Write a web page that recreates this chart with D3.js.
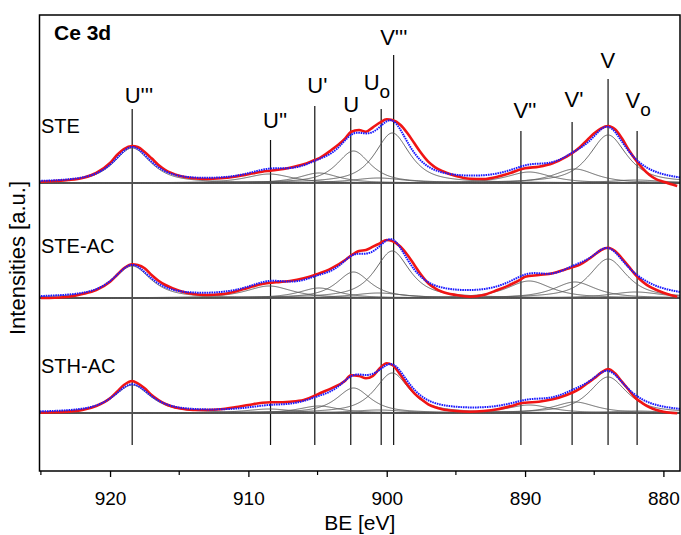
<!DOCTYPE html>
<html>
<head>
<meta charset="utf-8">
<script src="https://cdn.jsdelivr.net/npm/d3@7"></script>
<style>
  body { margin: 0; background: #fff; }
  text { font-family: Arial, "Liberation Sans", sans-serif; fill: #000; }
</style>
</head>
<body>
<div id="chart"></div>
<script>
const w = 681, h = 535;

// binding energies of the marker lines (eV)
const peakNames = ["U'''", "U''", "U'", "U", "Uo", "V'''", "V''", "V'", "V", "Vo"];
const peakLines = [918.4, 908.4, 905.2, 902.6, 900.4, 899.5, 890.3, 886.6, 884.0, 881.9];

// fitted components (shared centre and width, height per sample)
const compCenter = [918.4, 908.5, 904.9, 902.4, 900.6, 899.6, 889.7, 886.4, 884.0, 882.0];
const compFwhm   = [3.2, 4.0, 3.4, 2.9, 4.5, 3.0, 3.8, 3.6, 3.2, 4.5];
const heightSTE   = [35, 9, 10, 32, 5, 50, 11, 14, 48, 3];
const heightSTEAC = [32, 12, 10, 26, 5, 47, 17, 16, 39, 6];
const heightSTHAC = [28, 4, 7, 25, 3, 40, 8, 11, 36, 2];

const samples = ["STE", "STE-AC", "STH-AC"];
const offsets = [288, 173, 58];

// measured spectra (intensity above each baseline)
const expBE = [925, 924, 923, 922, 921, 920, 919.5, 919, 918.4, 918, 917.5, 917, 916.5, 916, 915,
  914, 913, 912, 911, 910, 909, 908.4, 908, 907, 906, 905.2, 905, 904, 903, 902.6,
  902, 901.5, 901, 900.5, 900, 899.6, 899, 898.5, 898, 897.5, 897, 896.5, 896, 895, 894,
  893, 892, 891, 890.3, 890, 889, 888, 887, 886.6, 886, 885.5, 885, 884.5, 884, 883.5,
  883, 882.5, 882, 881.5, 881, 880.5, 880, 879.5, 879];
const expSTE = [1.3, 2, 3, 5, 10, 20, 28, 34, 37, 36, 31, 24.7, 18, 13, 7.3,
  4.7, 4, 4.7, 6.3, 8.7, 11.3, 12.3, 13, 15.3, 18.7, 23, 24, 33, 44.7, 51,
  53, 51.3, 55.7, 60.3, 63.7, 63, 58, 49.7, 39.7, 29.7, 21.3, 15.7, 12, 7, 4.3,
  4, 6.3, 10.3, 13.7, 14.7, 16.3, 19.7, 26.3, 29.7, 36.3, 43, 49.7, 54.7, 57, 53.7,
  44.7, 33, 23, 14.7, 8, 3.7, 1.3, -1, -3];
const expSTEAC = [0, 0.3, 1.3, 4, 8, 16.3, 23, 29.7, 33.7, 33, 29.7, 23, 17.3, 13, 7.3,
  4, 3, 3.7, 6.3, 10.3, 14, 15.3, 15.7, 17, 19.7, 23, 24, 29.7, 38, 42.3,
  47, 48, 51.3, 54.7, 58, 57, 51.3, 43, 33, 23, 14.7, 9.7, 6.3, 3, 1.3,
  3, 8, 13.7, 18.7, 21.3, 23, 24.7, 29, 30.7, 33.7, 38, 43, 48, 50.3, 47,
  39.7, 31.3, 23, 16.3, 11.3, 8, 5.3, 3, 1.3];
const expSTHAC = [0.3, 0.7, 1.3, 3, 7, 14.7, 21.3, 28, 32, 29.7, 24.7, 18, 13, 9, 4.7,
  3, 3, 3.7, 5.7, 8, 10.3, 10.7, 10.7, 11.3, 13, 17.3, 18.7, 24.7, 32.3, 37.7,
  37, 34.7, 37, 44.7, 49.7, 48, 38, 28, 19.7, 13.7, 8.7, 5.7, 3.7, 2, 1.3,
  2, 3.7, 7, 9.7, 10.3, 11.3, 13.7, 18, 20.3, 24.7, 29.7, 34.7, 40.3, 44, 39.7,
  31.3, 23, 14.7, 9.7, 5.7, 3, 1.3, 0.3, -0.3];

const heights = [heightSTE, heightSTEAC, heightSTHAC];
const measured = [expSTE, expSTEAC, expSTHAC];

const xTicks = [920, 910, 900, 890, 880];
const xMinor = [925, 915, 905, 895, 885];

// annotation layout: line tops (intensity units) and label baselines (px)
const lineTop = [362, 331, 365, 353, 362, 416, 340, 349, 392, 340];
const lineBottom = 26;
const labelY = [103, 128, 93, 112, 90, 45, 118, 107, 68, 108];
const labelDx = [0, 0, 0, 0, -10, -6, 0, 0, 0, -4];
const sampleLabelY = [133, 253, 373];

const x = d3.scaleLinear().domain([925.1, 878.8]).range([39.5, 680]);
const y = d3.scaleLinear().domain([0, 456]).range([471, 15]);

const svg = d3.select("#chart").append("svg")
    .attr("width", w)
    .attr("height", h);

svg.append("defs").append("clipPath").attr("id", "plotclip")
  .append("rect").attr("x", x.range()[0]).attr("y", 15)
  .attr("width", x.range()[1] - x.range()[0]).attr("height", 456);

// pseudo-Voigt line shape
const pv = (e, c, hgt, fw) => {
  const r = (e - c) / (fw / 2), m = 0.8;
  return hgt * (m / (1 + r * r) + (1 - m) * Math.exp(-Math.LN2 * r * r));
};

const grid = d3.range(878.8, 925.15, 0.05);
const plot = svg.append("g").attr("clip-path", "url(#plotclip)");

// marker lines
plot.selectAll("line.marker")
  .data(peakLines)
  .enter().append("line")
  .attr("class", "marker")
  .attr("x1", d => x(d)).attr("x2", d => x(d))
  .attr("y1", (d, i) => y(lineTop[i])).attr("y2", y(lineBottom))
  .attr("stroke", "#111").attr("stroke-width", 1.2);

const line = d3.line().x(d => x(d[0])).y(d => y(d[1]));
const smooth = d3.line().x(d => x(d[0])).y(d => y(d[1])).curve(d3.curveMonotoneX);

samples.forEach((s, k) => {
  const off = offsets[k], hs = heights[k];
  // baseline
  plot.append("line")
    .attr("x1", x.range()[0]).attr("x2", x.range()[1])
    .attr("y1", y(off)).attr("y2", y(off))
    .attr("stroke", "#222").attr("stroke-width", 1);
  // components
  compCenter.forEach((c, i) => {
    plot.append("path")
      .attr("d", line(grid.map(e => [e, off + pv(e, c, hs[i], compFwhm[i])])))
      .attr("fill", "none").attr("stroke", "#555").attr("stroke-width", 0.9);
  });
  // measured
  plot.append("path")
    .attr("d", smooth(expBE.map((e, i) => [e, off + measured[k][i]]).reverse()))
    .attr("fill", "none").attr("stroke", "#f01414").attr("stroke-width", 2.6);
  // envelope of fit
  plot.append("path")
    .attr("d", line(grid.map(e => [e, off + d3.sum(compCenter, (c, i) => pv(e, c, hs[i], compFwhm[i]))])))
    .attr("fill", "none").attr("stroke", "#1a1aff").attr("stroke-width", 2)
    .attr("stroke-dasharray", "1.6 0.8");
  svg.append("text")
    .attr("x", 41).attr("y", sampleLabelY[k])
    .attr("font-size", 20).text(s);
});

// peak labels
peakNames.forEach((n, i) => {
  const t = svg.append("text")
    .attr("x", x(peakLines[i]) - 7.5 + labelDx[i])
    .attr("y", labelY[i])
    .attr("font-size", 22);
  if (n.endsWith("o")) {
    t.append("tspan").text(n[0]);
    t.append("tspan").attr("dy", 8).attr("font-size", 19).text("o");
  } else {
    t.text(n);
  }
});

// frame
svg.append("rect")
  .attr("x", x.range()[0]).attr("y", 15)
  .attr("width", x.range()[1] - x.range()[0]).attr("height", 456)
  .attr("fill", "none").attr("stroke", "#000").attr("stroke-width", 1.5);

// x axis
const xAxis = d3.axisBottom(x).tickValues(xTicks).tickSize(6).tickPadding(15).tickFormat(d3.format("d"));
const gx = svg.append("g").attr("transform", `translate(0,${y(0)})`).call(xAxis);
gx.select(".domain").remove();
gx.selectAll("text").attr("font-size", 19).attr("font-family", "Arial, 'Liberation Sans', sans-serif");
gx.selectAll("line").attr("stroke-width", 1.3);
svg.append("g").attr("transform", `translate(0,${y(0)})`)
  .selectAll("line").data(xMinor).enter().append("line")
  .attr("x1", d => x(d)).attr("x2", d => x(d))
  .attr("y1", 0).attr("y2", 4).attr("stroke", "#000").attr("stroke-width", 1.2);

svg.append("text")
  .attr("x", (x.range()[0] + x.range()[1]) / 2).attr("y", 530)
  .attr("text-anchor", "middle").attr("font-size", 21).text("BE [eV]");

svg.append("text")
  .attr("transform", "translate(25,258) rotate(-90)")
  .attr("text-anchor", "middle").attr("font-size", 22).text("Intensities [a.u.]");

svg.append("text")
  .attr("x", 54).attr("y", 40)
  .attr("font-size", 21).attr("font-weight", "bold").text("Ce 3d");
</script>
</body>
</html>
